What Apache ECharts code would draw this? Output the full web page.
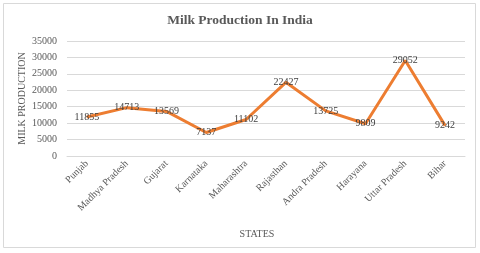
<!DOCTYPE html>
<html><head><meta charset="utf-8">
<script src="https://cdn.jsdelivr.net/npm/echarts@6/dist/echarts.min.js"></script>
<style>html,body{margin:0;padding:0;background:#fff}#c{width:480px;height:253px}</style>
</head><body><div id="c"></div>
<script>
const categories = ['Punjab','Madhya Pradesh','Gujarat','Karnataka','Maharashtra','Rajasthan','Andra Pradesh','Harayana','Uttar Pradesh','Bihar'];
const production = [11855,14713,13569,7137,11102,22427,13725,9809,29052,9242];
const chartTitle = 'Milk Production In India';
const yName = 'MILK PRODUCTION';
const xName = 'STATES';
const font = '"Liberation Serif","Times New Roman",serif';
const chart = echarts.init(document.getElementById('c'));
chart.setOption({
  animation:false,
  graphic:[{type:'rect',shape:{x:3.5,y:3.5,width:472,height:244},style:{fill:'none',stroke:'#D9D9D9',lineWidth:1}}],
  title:{text:chartTitle,left:'center',top:9,textStyle:{fontFamily:font,fontSize:13.5,fontWeight:'bold',color:'#595959'}},
  grid:{left:67,right:15,top:41,bottom:97},
  xAxis:{type:'category',data:categories,name:xName,nameLocation:'middle',nameGap:73,nameMoveOverlap:false,
    nameTextStyle:{fontFamily:font,fontSize:10,color:'#595959',padding:[0,18,0,0]},
    axisLine:{lineStyle:{color:'#D9D9D9'}},axisTick:{show:false},
    axisLabel:{rotate:45,interval:0,fontFamily:font,fontSize:10,color:'#595959',margin:6}},
  yAxis:{type:'value',min:0,max:35000,interval:5000,name:yName,nameLocation:'middle',nameGap:40,nameMoveOverlap:false,
    nameTextStyle:{fontFamily:font,fontSize:10,color:'#595959'},
    axisLine:{show:false},axisTick:{show:false},
    splitLine:{lineStyle:{color:'#D9D9D9'}},
    axisLabel:{fontFamily:font,fontSize:10,color:'#595959',margin:10,formatter:v=>String(v)}},
  series:[{type:'line',data:production,symbol:'circle',symbolSize:1,
    itemStyle:{color:'#ED7D31'},lineStyle:{color:'#ED7D31',width:3},
    label:{show:true,position:'inside',fontFamily:font,fontSize:10,color:'#404040'}}]
});
</script></body></html>
